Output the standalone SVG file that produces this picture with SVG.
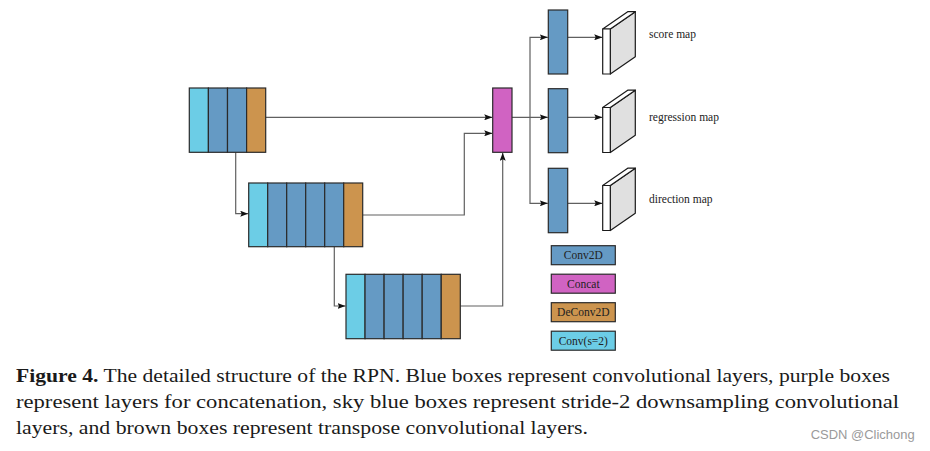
<svg xmlns="http://www.w3.org/2000/svg" width="930" height="451" viewBox="0 0 930 451">
<defs>
<style>
.box{stroke:#2a2a2a;stroke-width:1.2}
.sky{fill:#6ccde6}
.blu{fill:#659ac4}
.brn{fill:#cc944e}
.mag{fill:#d063c2}
.wire{fill:none;stroke:#606060;stroke-width:1.2}
.face{stroke:#1a1a1a;stroke-width:1.2;stroke-linejoin:round}
.maplabel{font-family:"Liberation Serif",serif;font-size:11.5px;fill:#222}
.leg{font-family:"Liberation Serif","DejaVu Serif",serif;font-size:11.5px;fill:#222;text-anchor:middle}
.cap{font-family:"Liberation Serif","DejaVu Serif",serif;font-size:18.5px;fill:#1a1a1a}
.wm{font-family:"Liberation Sans","DejaVu Sans",sans-serif;font-size:12.5px;fill:#9a9a9a}
</style>
<marker id="ah" viewBox="0 0 8 6" refX="8" refY="3" markerWidth="8" markerHeight="6" markerUnits="userSpaceOnUse" orient="auto">
<path d="M0,0 L8,3 L0,6 L1.5,3 Z" fill="#111"/>
</marker>
</defs>
<rect width="930" height="451" fill="#fff"/>

<g id="connectors">
<path class="wire" d="M265.7,117.3 H492.2" marker-end="url(#ah)"/>
<path class="wire" d="M235.7,152.3 V213.7 H248.2" marker-end="url(#ah)"/>
<path class="wire" d="M362.7,215 H464.3 V133.3 H492.2" marker-end="url(#ah)"/>
<path class="wire" d="M334.3,246.7 V306 H345.5" marker-end="url(#ah)"/>
<path class="wire" d="M460.3,306 H502.7 V152.8" marker-end="url(#ah)"/>
<path class="wire" d="M512,117.3 H547.8" marker-end="url(#ah)"/>
<path class="wire" d="M530,117.3 V37.3 H547.8" marker-end="url(#ah)"/>
<path class="wire" d="M530,117.3 V203.3 H547.8" marker-end="url(#ah)"/>
<path class="wire" d="M567.7,37.3 H602.2" marker-end="url(#ah)"/>
<path class="wire" d="M567.7,117.3 H602.2" marker-end="url(#ah)"/>
<path class="wire" d="M567.7,203.3 H602.2" marker-end="url(#ah)"/>
</g>

<g id="block1">
<rect class="box sky" x="189.3" y="88" width="19.1" height="64.3"/>
<rect class="box blu" x="208.4" y="88" width="19.1" height="64.3"/>
<rect class="box blu" x="227.5" y="88" width="19.1" height="64.3"/>
<rect class="box brn" x="246.6" y="88" width="19.1" height="64.3"/>
</g>

<g id="block2">
<rect class="box sky" x="248.7" y="183" width="19" height="63.7"/>
<rect class="box blu" x="267.7" y="183" width="19" height="63.7"/>
<rect class="box blu" x="286.7" y="183" width="19" height="63.7"/>
<rect class="box blu" x="305.7" y="183" width="19" height="63.7"/>
<rect class="box blu" x="324.7" y="183" width="19" height="63.7"/>
<rect class="box brn" x="343.7" y="183" width="19" height="63.7"/>
</g>

<g id="block3">
<rect class="box sky" x="346" y="274.3" width="19.05" height="64.4"/>
<rect class="box blu" x="365.05" y="274.3" width="19.05" height="64.4"/>
<rect class="box blu" x="384.1" y="274.3" width="19.05" height="64.4"/>
<rect class="box blu" x="403.15" y="274.3" width="19.05" height="64.4"/>
<rect class="box blu" x="422.2" y="274.3" width="19.05" height="64.4"/>
<rect class="box brn" x="441.25" y="274.3" width="19.05" height="64.4"/>
</g>

<g id="concat">
<rect class="box mag" x="492.7" y="88" width="19.3" height="64.3"/>
</g>

<g id="conv-score"><rect class="box blu" x="548.3" y="10" width="19.4" height="64"/></g>
<g id="conv-regression"><rect class="box blu" x="548.3" y="88.7" width="19.4" height="64"/></g>
<g id="conv-direction"><rect class="box blu" x="548.3" y="168.3" width="19.4" height="64.4"/></g>

<g id="score-map">
<polygon class="face" fill="#e0e0e0" points="610.3,29 635.3,11.7 635.3,56.7 610.3,74"/>
<polygon class="face" fill="#fff" points="602.7,29 627.7,11.7 635.3,11.7 610.3,29"/>
<rect class="face" fill="#fff" x="602.7" y="29" width="7.6" height="45"/>
<text class="maplabel" x="649" y="38">score map</text>
</g>

<g id="regression-map">
<polygon class="face" fill="#e0e0e0" points="610.3,107.5 635.3,90.2 635.3,135.2 610.3,152.5"/>
<polygon class="face" fill="#fff" points="602.7,107.5 627.7,90.2 635.3,90.2 610.3,107.5"/>
<rect class="face" fill="#fff" x="602.7" y="107.5" width="7.6" height="45"/>
<text class="maplabel" x="649" y="121">regression map</text>
</g>

<g id="direction-map">
<polygon class="face" fill="#e0e0e0" points="610.3,185.5 635.3,168.2 635.3,213.2 610.3,230.5"/>
<polygon class="face" fill="#fff" points="602.7,185.5 627.7,168.2 635.3,168.2 610.3,185.5"/>
<rect class="face" fill="#fff" x="602.7" y="185.5" width="7.6" height="45"/>
<text class="maplabel" x="649" y="203">direction map</text>
</g>

<g id="legend-conv2d"><rect class="box blu" x="551.3" y="245.7" width="64" height="19"/><text class="leg" x="583.3" y="259.2">Conv2D</text></g>
<g id="legend-concat"><rect class="box mag" x="551.3" y="274.2" width="64" height="19"/><text class="leg" x="583.3" y="287.7">Concat</text></g>
<g id="legend-deconv2d"><rect class="box brn" x="551.3" y="302.7" width="64" height="19"/><text class="leg" x="583.3" y="316.2">DeConv2D</text></g>
<g id="legend-conv-s2"><rect class="box sky" x="551.3" y="331.2" width="64" height="19"/><text class="leg" x="583.3" y="344.7">Conv(s=2)</text></g>

<g id="caption">
<text class="cap" x="16" y="382" textLength="874" lengthAdjust="spacingAndGlyphs"><tspan font-weight="bold">Figure 4.</tspan> The detailed structure of the RPN. Blue boxes represent convolutional layers, purple boxes</text>
<text class="cap" x="16" y="408" textLength="883" lengthAdjust="spacingAndGlyphs">represent layers for concatenation, sky blue boxes represent stride-2 downsampling convolutional</text>
<text class="cap" x="16" y="434" textLength="572" lengthAdjust="spacingAndGlyphs">layers, and brown boxes represent transpose convolutional layers.</text>
</g>
<text class="wm" x="810.7" y="439.3" textLength="104" lengthAdjust="spacingAndGlyphs">CSDN @Clichong</text>
</svg>
